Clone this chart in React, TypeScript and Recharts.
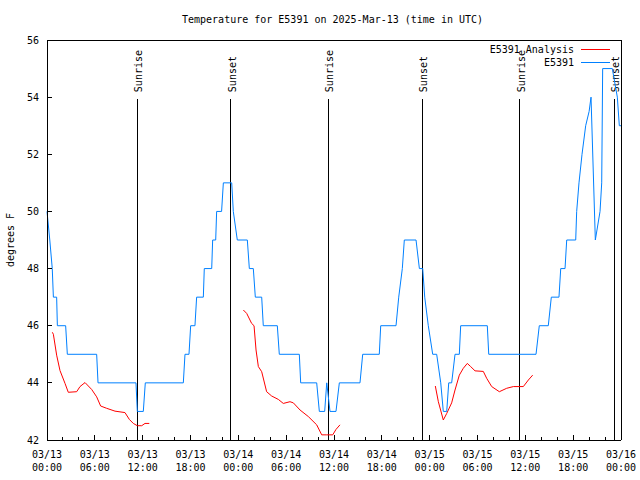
import { LineChart, Line, XAxis, YAxis, ReferenceLine, Legend } from 'recharts';

const FONT = '"DejaVu Sans Mono", monospace';
const RED = '#ff0000';
const BLUE = '#0080ff';

// station obs, hours after 03/13 00:00 UTC
const obsHours = [
  0, 0.35, 0.66, 0.8, 1.21, 1.3, 2.34, 2.55, 6.23, 6.4, 11.16, 11.33, 12.08, 12.33,
  17.1, 17.31, 17.81, 18.02, 18.56, 18.77, 19.61, 19.73, 20.66, 20.78, 21.16, 21.28,
  21.9, 22.12, 23.17, 23.37, 23.87, 25.13, 25.38, 25.88, 26.13, 26.93, 27.13, 28.89,
  29.14, 31.65, 31.82, 33.83, 34.16, 34.83, 35.09, 35.5, 36.25, 36.67, 39.26, 39.6,
  41.68, 41.86, 43.78, 44.12, 44.57, 44.82, 46.29, 46.71, 47.13, 47.38, 47.83, 48.38,
  48.88, 49.39, 49.71, 50.14, 50.39, 50.76, 51.18, 51.72, 51.89, 55.23, 55.41, 61.34,
  61.75, 62.88, 63.26, 64.22, 64.44, 64.98, 65.19, 66.32, 66.44, 66.73, 67.11, 67.57,
  68.0, 68.24, 68.78, 69.37, 69.58, 69.7, 70.91, 71.54, 71.79, 72,
];
const obsTemps = [
  50, 49, 48, 47, 47, 46, 46, 45, 45, 44, 44, 43, 43, 44,
  44, 45, 45, 46, 46, 47, 47, 48, 48, 49, 49, 50,
  50, 51, 51, 50, 49, 49, 48, 48, 47, 47, 46, 46,
  45, 45, 44, 44, 43, 43, 44, 43, 43, 44, 44, 45,
  45, 46, 46, 47, 48, 49, 49, 48, 48, 47, 46, 45,
  45, 44, 43, 43, 44, 44, 45, 45, 46, 46, 45, 45,
  46, 46, 47, 47, 48, 48, 49, 49, 50, 51, 52, 53,
  53.5, 54, 49, 50, 51, 55, 55, 54, 53, 53,
];

// analysis, null breaks the line
const anaHours = [
  0.67, 0.8, 1.21, 1.63, 2.26, 2.67, 3.72, 4.14, 4.77, 5.6, 6.23, 6.73, 7.48, 8.53,
  9.78, 10.33, 10.83, 11.33, 11.88, 12.29, 12.83,
  18,
  24.63, 25.05, 25.67, 25.97, 26.22, 26.51, 26.93, 27.55, 28.18, 29.02, 29.64, 30.48,
  30.9, 31.74, 32.78, 33.83, 34.46, 35.09, 35.84, 36.25, 36.75,
  42,
  48.71, 49.09, 49.71, 50.14, 50.76, 51.18, 51.72, 52.22, 52.72, 53.14, 53.69, 54.73,
  55.15, 55.78, 56.74, 57.66, 58.5, 59.75, 60.38, 60.92,
];
const anaTemps = [
  45.77, 45.7, 44.97, 44.43, 43.98, 43.67, 43.69, 43.87, 44.01, 43.77, 43.51, 43.19, 43.11, 43.01,
  42.96, 42.72, 42.58, 42.5, 42.5, 42.58, 42.58,
  null,
  46.55, 46.43, 46.08, 46.0, 45.15, 44.57, 44.39, 43.69, 43.54, 43.42, 43.28, 43.34,
  43.3, 43.05, 42.82, 42.53, 42.18, 42.18, 42.18, 42.37, 42.53,
  null,
  43.89, 43.34, 42.7, 42.93, 43.3, 43.75, 44.27, 44.51, 44.68, 44.57, 44.42, 44.4,
  44.16, 43.87, 43.69, 43.81, 43.87, 43.87, 44.1, 44.27,
];

const tickHours = [
  0, 2, 4, 6, 8, 10, 12, 14, 16, 18, 20, 22, 24, 26, 28, 30, 32, 34, 36,
  38, 40, 42, 44, 46, 48, 50, 52, 54, 56, 58, 60, 62, 64, 66, 68, 70, 72,
];
const labelHours = [0, 6, 12, 18, 24, 30, 36, 42, 48, 54, 60, 66, 72];
const labelDays = ['03/13', '03/13', '03/13', '03/13', '03/14', '03/14', '03/14', '03/14', '03/15', '03/15', '03/15', '03/15', '03/16'];
const labelTimes = ['00:00', '06:00', '12:00', '18:00', '00:00', '06:00', '12:00', '18:00', '00:00', '06:00', '12:00', '18:00', '00:00'];
const tempTicks = [42, 44, 46, 48, 50, 52, 54, 56];

const sunHours = [11.33, 23.04, 35.29, 47.08, 59.33, 71.16];
const sunNames = ['Sunrise', 'Sunset', 'Sunrise', 'Sunset', 'Sunrise', 'Sunset'];
const SUN_TOP = 53.93;

const obsData = obsHours.map((h, i) => ({ h, t: obsTemps[i] }));
const anaData = anaHours.map((h, i) => ({ h, t: anaTemps[i] }));

const txt = { fontFamily: FONT, fontSize: 10, fill: '#000' };

function BottomTick({ x, y, payload }: any) {
  const i = labelHours.indexOf(payload.value);
  return (
    <g>
      <line x1={x} x2={x} y1={y} y2={y - (i >= 0 ? 5 : 3)} stroke="#000" shapeRendering="crispEdges" />
      {i >= 0 && (
        <text x={x} y={y + 17.5} textAnchor="middle" {...txt}>
          <tspan x={x}>{labelDays[i]}</tspan>
          <tspan x={x} dy={13}>{labelTimes[i]}</tspan>
        </text>
      )}
    </g>
  );
}

function TopTick({ x, y, payload }: any) {
  const major = labelHours.includes(payload.value);
  return <line x1={x} x2={x} y1={y} y2={y + (major ? 5 : 3)} stroke="#000" shapeRendering="crispEdges" />;
}

function LeftTick({ x, y, payload }: any) {
  return (
    <g>
      <line x1={x} x2={x + 5} y1={y} y2={y} stroke="#000" shapeRendering="crispEdges" />
      <text x={x - 8} y={y + 3.5} textAnchor="end" {...txt}>{payload.value}</text>
    </g>
  );
}

function RightTick({ x, y }: any) {
  return <line x1={x} x2={x - 5} y1={y} y2={y} stroke="#000" shapeRendering="crispEdges" />;
}

function SunLabel({ viewBox, name }: any) {
  const x = viewBox.x + 5;
  const y = viewBox.y - 7;
  return (
    <text x={x} y={y} transform={`rotate(-90 ${x} ${y})`} {...txt}>{name}</text>
  );
}

function YTitle({ viewBox }: any) {
  const x = 14;
  const y = viewBox.y + viewBox.height / 2;
  return (
    <text x={x} y={y} textAnchor="middle" transform={`rotate(-90 ${x} ${y})`} {...txt}>
      degrees F
    </text>
  );
}

function Key() {
  return (
    <svg width={150} height={30} style={{ display: 'block' }}>
      <text x={104} y={13} textAnchor="end" {...txt}>E5391 Analysis</text>
      <line x1={111} x2={140} y1={9.5} y2={9.5} stroke={RED} strokeWidth={1} />
      <text x={104} y={26} textAnchor="end" {...txt}>E5391</text>
      <line x1={111} x2={140} y1={22.5} y2={22.5} stroke={BLUE} strokeWidth={1} />
    </svg>
  );
}

export default function App() {
  return (
    <div style={{ position: 'absolute', left: 0, top: 0, width: 640, height: 480, background: '#fff' }}>
      <div
        style={{
          position: 'absolute', left: 182, top: 14, fontFamily: FONT, fontSize: 10,
          lineHeight: '12px', whiteSpace: 'pre', color: '#000',
        }}
      >
        Temperature for E5391 on 2025-Mar-13 (time in UTC)
      </div>
      <LineChart width={640} height={480} margin={{ top: 40, right: 19, left: 0, bottom: 0 }}>
        <XAxis
          dataKey="h" type="number" domain={[0, 72]} ticks={tickHours} interval={0}
          height={40} tickSize={0} tickMargin={0} tickLine={false}
          axisLine={{ stroke: '#000', shapeRendering: 'crispEdges' }} tick={<BottomTick />}
        />
        <XAxis
          xAxisId="top" orientation="top" mirror dataKey="h" type="number" domain={[0, 72]}
          ticks={tickHours} interval={0} tickSize={0} tickMargin={0} tickLine={false}
          axisLine={{ stroke: '#000', shapeRendering: 'crispEdges' }} tick={<TopTick />}
        />
        <YAxis
          type="number" domain={[42, 56]} ticks={tempTicks} interval={0} width={47}
          tickSize={0} tickMargin={0} tickLine={false}
          axisLine={{ stroke: '#000', shapeRendering: 'crispEdges' }}
          tick={<LeftTick />} label={(p: any) => <YTitle {...p} />}
        />
        <YAxis
          yAxisId="right" orientation="right" mirror type="number" domain={[42, 56]}
          ticks={tempTicks} interval={0} tickSize={0} tickMargin={0} tickLine={false}
          axisLine={{ stroke: '#000', shapeRendering: 'crispEdges' }} tick={<RightTick />}
        />
        {sunHours.map((h, i) => (
          <ReferenceLine
            key={i}
            segment={[{ x: h, y: 42 }, { x: h, y: SUN_TOP }]}
            stroke="#000"
            strokeWidth={1}
            shapeRendering="crispEdges"
            label={(p: any) => <SunLabel {...p} name={sunNames[i]} />}
          />
        ))}
        <Line
          data={anaData} dataKey="t" type="linear" stroke={RED} strokeWidth={1}
          dot={false} isAnimationActive={false} connectNulls={false}
        />
        <Line
          data={obsData} dataKey="t" type="linear" stroke={BLUE} strokeWidth={1}
          dot={false} isAnimationActive={false}
        />
        <Legend
          layout="horizontal" verticalAlign="middle" align="center"
          wrapperStyle={{ left: 470, top: 40, width: 150, height: 30 }}
          content={() => <Key />}
        />
      </LineChart>
    </div>
  );
}
